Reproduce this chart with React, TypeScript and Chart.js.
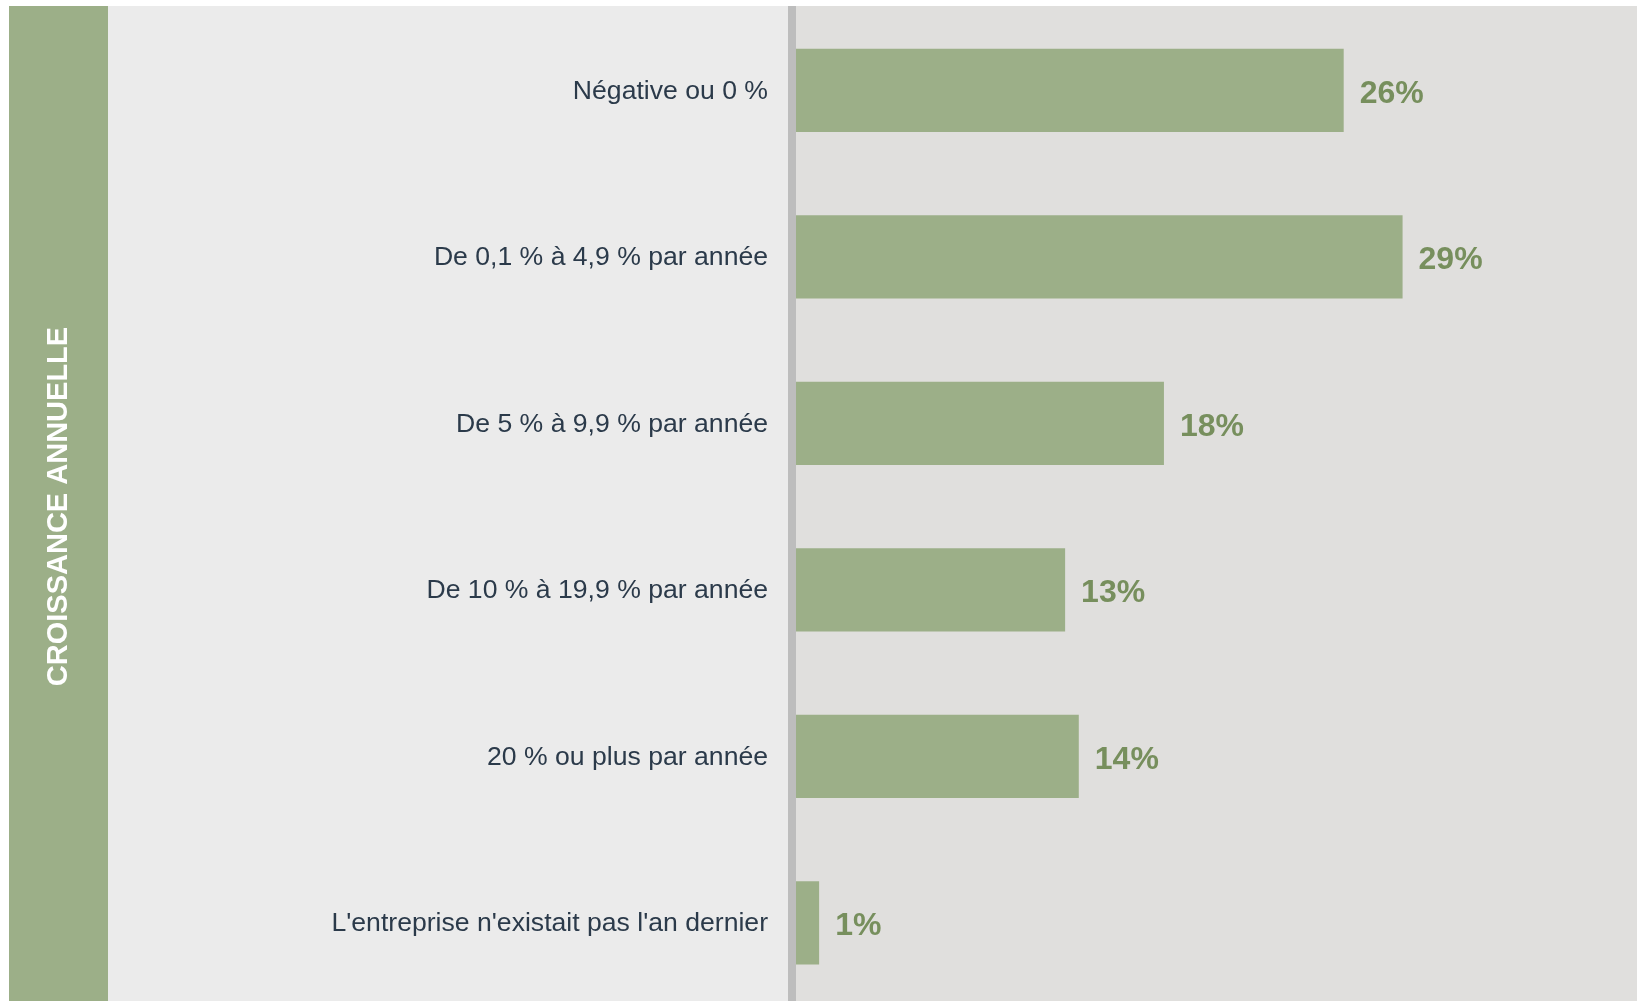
import React, { useEffect, useRef } from "react";
import { Chart, registerables } from "chart.js";

Chart.register(...registerables);

const categories: string[] = [
  "Négative ou 0 %",
  "De 0,1 % à 4,9 % par année",
  "De 5 % à 9,9 % par année",
  "De 10 % à 19,9 % par année",
  "20 % ou plus par année",
  "L'entreprise n'existait pas l'an dernier",
];

const growthShares: number[] = [26.05, 28.85, 17.5, 12.8, 13.45, 1.1];

const shareLabels: string[] = ["26%", "29%", "18%", "13%", "14%", "1%"];

const axisTitle = "CROISSANCE ANNUELLE";

const xMin = 0;
const xMax = 40;

const GREEN = "#9caf88";
const DARK_GREEN = "#778f5d";
const LEFT_PANEL = "#ebebeb";
const RIGHT_PANEL = "#e0dfdd";
const AXIS_LINE = "#bdbdbd";
const TEXT = "#2b3a4a";
const FONT = "'Liberation Sans', Arial, sans-serif";

const backgroundPlugin = {
  id: "panels",
  beforeDraw(chart: any) {
    const { ctx, chartArea, height } = chart;
    ctx.save();
    ctx.fillStyle = GREEN;
    ctx.fillRect(1, 0, 99, height);
    ctx.fillStyle = LEFT_PANEL;
    ctx.fillRect(100, 0, chartArea.left - 8 - 100, height);
    ctx.fillStyle = AXIS_LINE;
    ctx.fillRect(chartArea.left - 8, 0, 8, height);
    ctx.fillStyle = RIGHT_PANEL;
    ctx.fillRect(chartArea.left, 0, chartArea.right - chartArea.left, height);
    ctx.restore();
  },
};

const valueLabelPlugin = {
  id: "valueLabels",
  afterDatasetsDraw(chart: any) {
    const { ctx } = chart;
    const meta = chart.getDatasetMeta(0);
    ctx.save();
    ctx.fillStyle = DARK_GREEN;
    ctx.font = `bold 32px ${FONT}`;
    ctx.textAlign = "left";
    ctx.textBaseline = "middle";
    meta.data.forEach((bar: any, i: number) => {
      ctx.fillText(shareLabels[i], bar.x + 16, bar.y + 3.5);
    });
    ctx.restore();
  },
};

export default function App() {
  const canvasRef = useRef<HTMLCanvasElement | null>(null);

  useEffect(() => {
    if (!canvasRef.current) return;
    const chart = new Chart(canvasRef.current, {
      type: "bar",
      data: {
        labels: categories,
        datasets: [
          {
            data: growthShares,
            backgroundColor: GREEN,
            borderWidth: 0,
            barPercentage: 0.5,
            categoryPercentage: 1.0,
          },
        ],
      },
      options: {
        indexAxis: "y",
        responsive: false,
        animation: false,
        devicePixelRatio: 1,
        layout: { padding: { left: 0, right: 0, top: 1, bottom: 1 } },
        plugins: {
          legend: { display: false },
          tooltip: { enabled: false },
          title: { display: false },
        },
        scales: {
          x: {
            display: false,
            min: xMin,
            max: xMax,
          },
          y: {
            grid: { display: false, drawTicks: false },
            border: { display: false },
            ticks: {
              color: TEXT,
              padding: 28,
              labelOffset: 1,
              font: { family: FONT, size: 26.6 },
            },
            title: {
              display: true,
              text: axisTitle,
              color: "#ffffff",
              font: { family: FONT, size: 29, weight: "bold" },
              padding: { top: 33.6, bottom: 0 },
            },
            afterFit(scale: any) {
              scale.width = 788;
              scale.paddingTop = 0;
              scale.paddingBottom = 0;
            },
          },
        },
      } as any,
      plugins: [backgroundPlugin, valueLabelPlugin],
    });
    return () => chart.destroy();
  }, []);

  return (
    <div style={{ position: "fixed", top: 6, left: 8 }}>
      <canvas
        ref={canvasRef}
        width={1629}
        height={1001}
        style={{ display: "block", width: 1629, height: 1001 }}
      />
    </div>
  );
}
